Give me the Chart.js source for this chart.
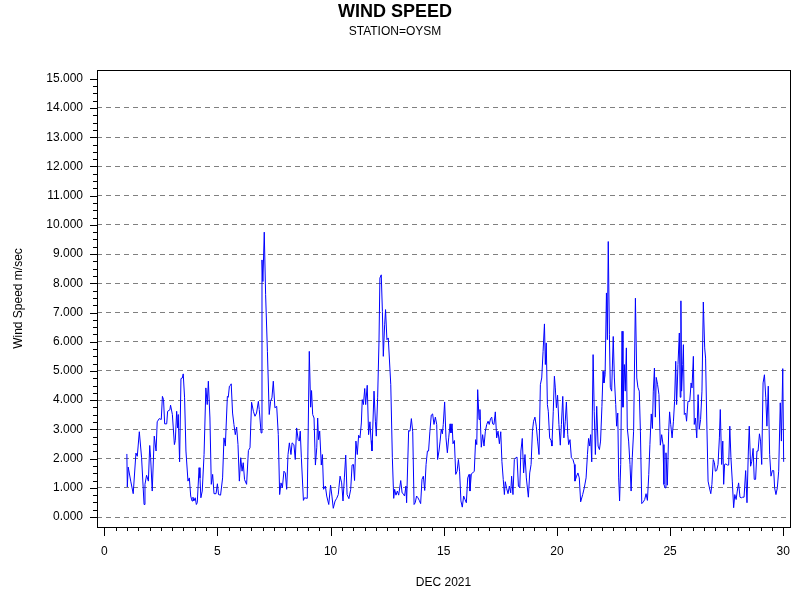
<!DOCTYPE html>
<html>
<head>
<meta charset="utf-8">
<script src="https://cdn.jsdelivr.net/npm/chart.js@4.4.1/dist/chart.umd.min.js"></script>
<style>
html,body{margin:0;padding:0;background:#fff}
</style>
</head>
<body>
<canvas id="windChart" width="800" height="600"></canvas>
<script>

/* Data: day of month (DEC 2021) and wind speed m/sec */

const days=[
1.00,1.02,1.06,1.17,1.28,1.40,1.46,1.55,1.65,1.76,
1.80,1.87,1.95,2.01,2.05,2.12,2.21,2.29,2.34,2.43,
2.52,2.57,2.62,2.67,2.76,2.80,2.90,2.93,3.01,3.10,
3.14,3.20,3.24,3.27,3.33,3.39,3.45,3.49,3.55,3.61,
3.70,3.76,3.82,3.88,3.92,3.96,4.02,4.07,4.11,4.19,
4.23,4.27,4.33,4.41,4.49,4.55,4.60,4.67,4.73,4.79,
4.85,4.94,5.00,5.05,5.14,5.23,5.29,5.35,5.44,5.48,
5.53,5.58,5.61,5.67,5.73,5.79,5.85,5.91,5.97,6.03,
6.09,6.14,6.20,6.29,6.37,6.44,6.51,6.59,6.66,6.73,
6.81,6.85,6.93,6.97,7.01,7.07,7.13,7.21,7.29,7.35,
7.41,7.47,7.54,7.62,7.69,7.75,7.81,7.87,7.94,8.00,
8.06,8.12,8.18,8.25,8.30,8.38,8.44,8.50,8.57,8.62,
8.66,8.71,8.80,8.85,8.97,9.06,9.12,9.16,9.21,9.27,
9.33,9.39,9.43,9.47,9.52,9.59,9.64,9.69,9.77,9.83,
9.92,10.00,10.06,10.12,10.20,10.27,10.34,10.42,10.49,10.55,
10.61,10.67,10.73,10.81,10.89,10.95,11.01,11.06,11.12,11.18,
11.24,11.30,11.36,11.40,11.45,11.51,11.55,11.62,11.68,11.74,
11.79,11.83,11.92,11.98,12.02,12.08,12.14,12.18,12.24,12.29,
12.33,12.39,12.43,12.49,12.55,12.66,12.73,12.79,12.83,12.89,
12.95,13.01,13.10,13.16,13.21,13.27,13.33,13.36,13.45,13.51,
13.57,13.63,13.69,13.74,13.80,13.86,13.92,13.98,14.04,14.10,
14.16,14.22,14.28,14.33,14.39,14.45,14.51,14.57,14.63,14.69,
14.73,14.79,14.84,14.89,14.94,14.98,15.04,15.10,15.16,15.22,
15.28,15.32,15.37,15.41,15.47,15.53,15.59,15.65,15.70,15.76,
15.82,15.88,15.94,16.00,16.06,16.12,16.16,16.22,16.28,16.35,
16.41,16.46,16.50,16.56,16.60,16.66,16.72,16.78,16.84,16.90,
16.96,17.01,17.07,17.12,17.16,17.22,17.28,17.34,17.40,17.46,
17.52,17.57,17.63,17.68,17.72,17.78,17.84,17.90,17.96,18.00,
18.06,18.12,18.18,18.24,18.30,18.36,18.41,18.47,18.53,18.59,
18.65,18.74,18.80,18.86,18.92,18.97,19.03,19.09,19.15,19.21,
19.27,19.33,19.39,19.45,19.49,19.53,19.58,19.62,19.68,19.74,
19.78,19.84,19.89,19.93,19.98,20.03,20.09,20.15,20.20,20.26,
20.31,20.37,20.42,20.48,20.52,20.58,20.64,20.71,20.77,20.80,
20.87,20.93,20.99,21.05,21.14,21.21,21.29,21.35,21.40,21.45,
21.49,21.54,21.60,21.65,21.70,21.76,21.82,21.88,21.93,21.99,
22.04,22.08,22.13,22.19,22.23,22.27,22.32,22.36,22.42,22.49,
22.54,22.60,22.64,22.69,22.73,22.77,22.82,22.88,22.92,22.98,
23.02,23.07,23.11,23.17,23.23,23.28,23.33,23.39,23.47,23.53,
23.58,23.64,23.69,23.75,23.82,23.88,23.94,24.00,24.06,24.11,
24.17,24.22,24.26,24.31,24.35,24.39,24.45,24.51,24.57,24.63,
24.69,24.73,24.78,24.82,24.88,24.94,24.98,25.03,25.09,25.15,
25.20,25.25,25.29,25.35,25.41,25.45,25.48,25.51,25.56,25.59,
25.63,25.69,25.73,25.79,25.87,25.93,25.97,26.03,26.07,26.12,
26.18,26.24,26.29,26.35,26.41,26.47,26.53,26.57,26.62,26.68,
26.74,26.80,26.85,26.91,26.96,27.00,27.06,27.12,27.18,27.22,
27.28,27.33,27.37,27.41,27.47,27.53,27.59,27.64,27.69,27.75,
27.81,27.86,27.92,27.97,28.03,28.09,28.15,28.21,28.27,28.34,
28.40,28.46,28.50,28.56,28.61,28.67,28.72,28.78,28.84,28.89,
28.95,29.00,29.05,29.11,29.17,29.23,29.28,29.34,29.40,29.46,
29.52,29.58,29.62,29.68,29.74,29.80,29.87,29.92,29.98,30.02
];

const speeds=[
2.16,1.03,1.71,1.23,0.80,2.19,2.08,2.92,2.03,0.43,
1.12,1.43,1.23,2.45,2.03,0.89,2.77,2.26,3.26,3.37,
3.34,4.13,4.02,3.19,3.19,3.62,3.67,3.83,3.51,2.48,
2.62,3.62,3.05,3.51,1.89,4.74,4.76,4.90,4.08,2.26,
1.23,1.34,0.72,0.55,0.68,0.55,0.66,0.43,0.49,1.69,
1.34,0.66,0.89,2.14,4.42,3.85,4.65,3.39,1.12,1.46,
0.80,0.80,1.14,0.77,0.75,1.34,2.71,2.43,4.13,4.10,
4.48,4.51,4.56,3.56,3.17,2.82,3.08,2.48,1.23,2.03,
1.57,1.86,1.28,1.12,2.28,2.37,3.93,3.62,3.45,3.56,
3.96,3.68,2.88,8.80,8.06,9.75,7.61,5.67,3.51,3.96,
4.08,4.65,3.74,3.79,2.82,0.77,1.17,1.00,1.57,1.51,
0.95,2.14,2.54,2.14,2.54,2.48,1.97,3.05,2.65,2.60,
2.94,2.03,0.57,0.66,0.64,5.67,3.76,4.33,3.51,3.39,
1.78,2.37,3.39,2.65,2.94,1.78,2.14,0.95,1.06,0.72,
0.43,1.09,0.72,0.30,0.55,0.64,0.77,1.40,1.17,0.55,
1.34,2.12,0.77,0.63,0.95,1.78,1.80,1.25,2.60,2.14,
2.80,2.71,3.22,4.02,3.85,4.40,3.85,4.51,2.82,3.26,
2.62,2.26,4.31,3.28,2.77,4.08,6.01,8.18,8.29,7.04,
5.50,6.58,7.10,6.07,6.13,4.53,2.03,0.64,0.95,0.75,
0.89,0.75,1.25,0.83,0.80,0.72,1.06,0.49,2.96,2.94,
3.37,2.92,0.43,0.49,0.72,0.66,0.57,0.46,1.29,1.40,
0.91,1.80,2.26,2.26,2.94,3.49,3.53,3.17,3.42,3.17,
1.97,2.26,2.60,3.00,2.85,3.17,3.94,2.71,2.20,2.71,
3.19,2.88,3.19,2.51,2.62,1.46,1.57,1.97,1.57,0.55,
0.34,0.72,0.60,0.49,1.34,1.46,0.89,1.48,1.51,1.57,
2.65,2.48,4.36,3.34,3.68,2.39,2.82,2.43,2.94,3.17,
3.28,3.17,3.37,3.42,3.19,3.17,3.60,2.71,2.94,2.51,
2.92,1.91,1.29,0.77,1.21,0.98,0.80,1.06,0.83,1.40,
0.77,1.97,2.03,2.05,1.06,1.00,2.26,2.69,1.51,2.14,
1.34,0.68,1.51,1.80,2.94,3.28,3.42,3.11,2.60,2.14,
4.53,4.76,5.67,6.61,5.22,5.96,3.85,3.62,2.71,2.62,
2.43,3.62,4.82,4.42,3.74,4.17,3.17,2.46,3.17,4.13,
2.71,3.28,3.94,2.82,2.48,2.65,2.03,1.97,1.80,1.23,
1.40,1.51,1.34,0.52,0.77,1.00,1.34,2.14,2.69,2.43,
2.82,1.89,5.56,3.62,2.14,3.79,2.43,2.31,2.60,3.79,
4.99,4.59,4.87,7.67,6.07,9.43,6.24,4.44,4.31,6.18,
4.76,3.85,3.11,3.56,1.34,0.55,1.80,6.36,3.76,5.22,
4.31,5.79,3.05,2.60,1.80,0.89,2.03,2.94,7.49,4.76,
4.44,4.31,2.94,0.46,0.52,0.60,0.80,0.57,1.46,2.48,
3.53,3.03,4.31,5.10,3.42,4.78,4.53,4.19,2.46,2.82,
2.48,1.12,1.00,2.20,1.09,2.94,3.60,3.17,2.71,3.28,
3.96,5.33,3.85,5.22,6.30,4.10,7.40,4.31,5.22,5.90,
3.51,3.56,3.28,3.96,3.96,4.59,4.42,5.50,3.17,3.39,
2.71,4.19,3.00,3.34,4.31,7.36,5.79,5.44,3.39,1.23,
1.00,0.80,1.12,1.97,1.86,1.57,1.59,1.80,2.71,3.68,
1.80,2.60,1.12,1.80,1.82,1.78,1.78,3.11,2.03,1.23,
0.32,0.77,0.60,0.89,1.17,0.68,0.66,0.68,0.68,1.59,
0.49,2.26,3.11,1.74,1.91,2.35,1.29,1.29,2.26,2.26,
2.85,2.60,1.80,4.59,4.87,4.08,3.11,4.48,2.14,1.40,
1.59,1.59,1.00,0.77,1.00,1.57,3.91,2.60,5.08,1.89
];

/* Axis ticks */

const xTicks=[0,5,10,15,20,25,30];
const yTicks=[0,1,2,3,4,5,6,7,8,9,10,11,12,13,14,15];

const titleText="WIND SPEED";
const subtitleText="STATION=OYSM";
const xTitle="DEC 2021";
const yTitle="Wind Speed m/sec";

const fam="'Liberation Sans', Arial, Helvetica, sans-serif";

const points=[];
const n=Math.min(days.length,speeds.length);
for(let i=0;i<n;i++) points.push({x:days[i],y:speeds[i]});

/* Frame plus major/minor tick marks, placed through the chart scales */

const framePlugin={
id:"frame",
afterDraw(chart){
const {ctx,chartArea:a,scales:{x,y}}=chart;
ctx.save();
ctx.strokeStyle="#000";
ctx.lineWidth=1;
ctx.strokeRect(Math.round(a.left)+0.5,Math.round(a.top)+0.5,Math.round(a.right-a.left),Math.round(a.bottom-a.top));
ctx.beginPath();
for(let v=yTicks[0];v<=yTicks[yTicks.length-1]+1e-6;v+=0.25){
const py=Math.round(y.getPixelForValue(v))+0.5;
const len=Math.abs(v-Math.round(v))<1e-6?7:4;
ctx.moveTo(a.left-len,py);
ctx.lineTo(a.left,py);
}
for(let v=xTicks[0];v<=xTicks[xTicks.length-1]+1e-6;v+=0.5){
const px=Math.round(x.getPixelForValue(v))+0.5;
const len=Math.abs(v/5-Math.round(v/5))<1e-6?9:4;
ctx.moveTo(px,a.bottom);
ctx.lineTo(px,a.bottom+len);
}
ctx.stroke();
ctx.restore();
}
};

const ctx=document.getElementById("windChart");

const chart=new Chart(ctx,{
type:"line",
data:{
datasets:[{
label:"Wind Speed",
data:points,
borderColor:"#0000ff",
borderWidth:1,
pointRadius:0,
tension:0,
fill:false
}]
},
options:{
responsive:false,
animation:false,
layout:{padding:{left:0,right:10,top:0,bottom:0}},
plugins:{
legend:{display:false},
tooltip:{enabled:false},
title:{
display:true,
text:titleText,
color:"#000",
font:{family:fam,size:18,weight:"bold",lineHeight:1.2},
padding:{top:1,bottom:0}
},
subtitle:{
display:true,
text:subtitleText,
color:"#000",
font:{family:fam,size:12,lineHeight:1.2},
padding:{top:2,bottom:31}
}
},
scales:{
x:{
type:"linear",
min:-0.32,
max:30.3,
afterBuildTicks:s=>{s.ticks=xTicks.map(v=>({value:v}));},
afterFit:s=>{s.height=73;s.paddingLeft=0;s.paddingRight=0;},
grid:{display:false},
border:{display:false},
ticks:{
padding:9,
color:"#000",
maxRotation:0,
autoSkip:false,
font:{family:fam,size:12},
callback:v=>String(v)
},
title:{
display:true,
text:xTitle,
color:"#000",
font:{family:fam,size:12,lineHeight:1.2},
padding:{top:4,bottom:10}
}
},
y:{
type:"linear",
min:-0.34,
max:15.3,
afterBuildTicks:s=>{s.ticks=yTicks.map(v=>({value:v}));},
afterFit:s=>{s.width=97;s.paddingTop=0;s.paddingBottom=0;},
grid:{
drawTicks:false,
lineWidth:1,
color:c=>(c.tick&&c.tick.value===15)?"rgba(0,0,0,0)":"#808080"
},
border:{display:false,dash:[5,4]},
ticks:{
padding:14,
color:"#000",
autoSkip:false,
font:{family:fam,size:12},
callback:v=>Number(v).toFixed(3)
},
title:{
display:true,
text:yTitle,
color:"#000",
font:{family:fam,size:12,lineHeight:1.2},
padding:{top:11,bottom:4}
}
}
}
},
plugins:[framePlugin]
});

</script>
</body>
</html>
